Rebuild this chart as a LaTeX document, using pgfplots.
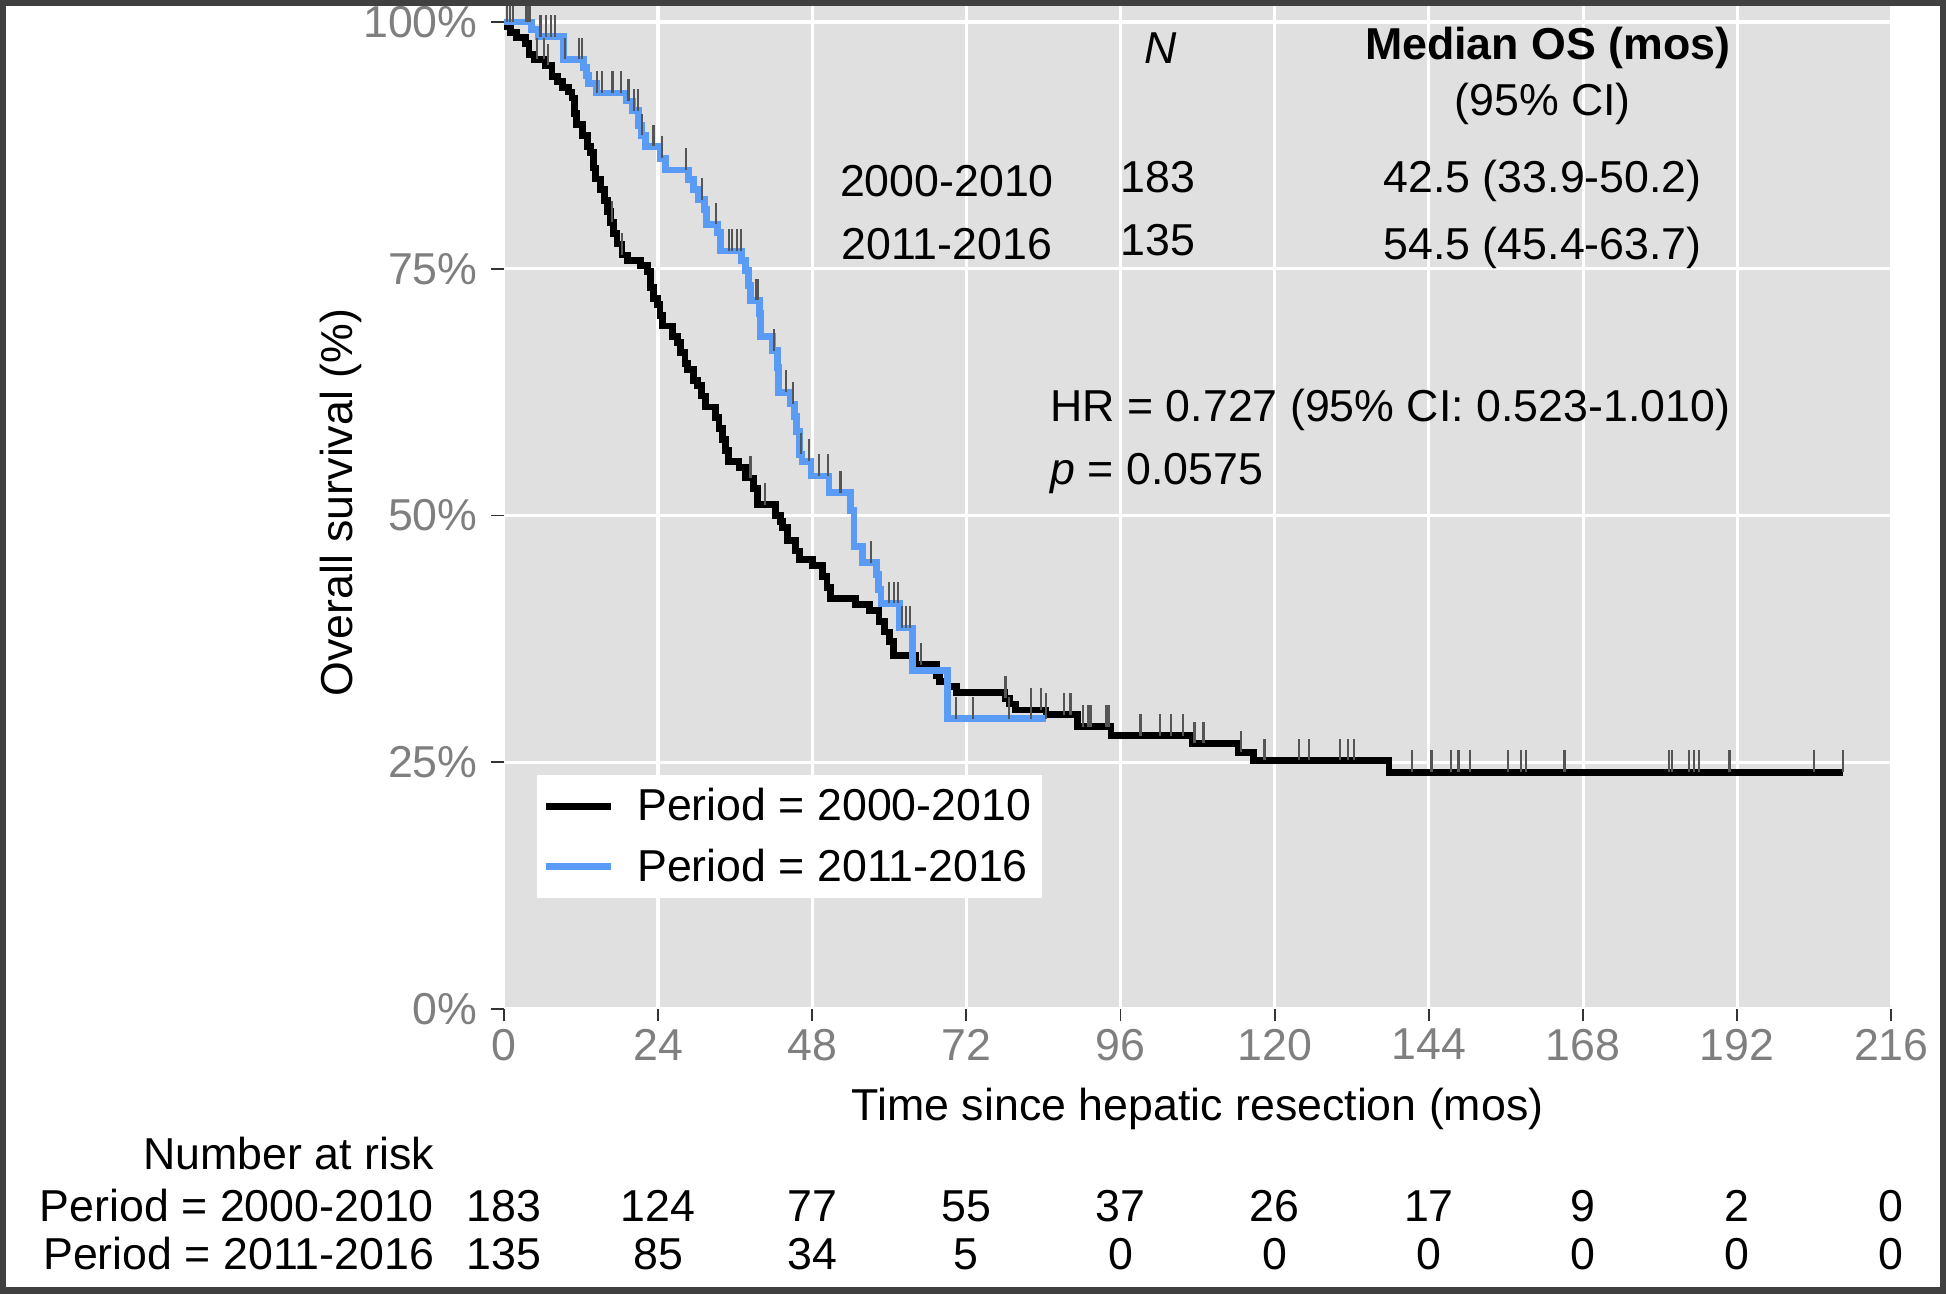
\documentclass[border=0pt]{standalone}
\usepackage{fontspec}
\setmainfont{Liberation Sans}
\usepackage{pgfplots}
\pgfplotsset{compat=1.18}
\definecolor{panelgrey}{HTML}{E0E0E0}
\definecolor{kmblue}{HTML}{5A9BF5}
\definecolor{tickgrey}{HTML}{7F7F7F}
\definecolor{tickdark}{HTML}{333333}
\definecolor{censgrey}{HTML}{555555}
\definecolor{framegrey}{HTML}{404040}
\newcommand{\chartfont}{\fontsize{20.5pt}{24pt}\selectfont}
% censoring tick: short vertical bar sitting on the curve
\pgfdeclareplotmark{cens}{\pgfpathmoveto{\pgfpointorigin}\pgfpathlineto{\pgfpoint{0pt}{3.5mm}}\pgfusepathqstroke}

\begin{document}
\begin{tikzpicture}
\useasboundingbox (-81.2mm,-45.8mm) rectangle (232.4mm,162.6mm);
\begin{axis}[
    at={(0mm,0mm)}, anchor=south west,
    scale only axis, width=223.6mm, height=161.6mm,
    xmin=0, xmax=216, ymin=0, ymax=1.016,
    axis background/.style={fill=panelgrey},
    axis line style={draw=none},
    xtick={0,24,...,216}, ytick={0,0.25,0.5,0.75,1},
    yticklabels={0\%,25\%,50\%,75\%,100\%},
    xtick pos=bottom, ytick pos=left,
    tick align=outside, major tick length=2mm,
    tick style={color=tickdark, line width=0.3mm},
    grid=major, major grid style={white, line width=0.5mm},
    tick label style={font=\chartfont, color=tickgrey},
    yticklabel style={xshift=-1mm},
    /pgf/number format/assume math mode=true,
    legend style={at={(rel axis cs:0.0233,0.234)}, anchor=north west,
        draw=none, fill=white, font=\chartfont, inner xsep=1mm, inner ysep=1.5mm,
        row sep=2.6mm, /tikz/every odd column/.append style={column sep=3mm}},
    legend cell align=left,
    legend image code/.code={\draw[#1] (0mm,0mm) -- (10.4mm,0mm);},
]
\addplot[black, line width=1.1mm, const plot] coordinates {
    (0,1.000) (0.5,0.995) (1.0,0.989) (2.0,0.984) (3.4,0.978) (3.9,0.967)
    (4.7,0.962) (6.5,0.956) (7.5,0.945) (8.3,0.940) (9.1,0.934) (10.0,0.929)
    (10.6,0.923) (11.0,0.907) (11.3,0.896) (12.2,0.885) (13.0,0.874) (13.5,0.868)
    (13.9,0.852) (14.2,0.841) (15.1,0.830) (15.6,0.819) (16.1,0.808) (16.6,0.797)
    (17.1,0.786) (17.6,0.775) (18.4,0.764) (19.2,0.758) (21.3,0.753) (22.3,0.747)
    (22.8,0.731) (23.3,0.720) (23.9,0.714) (24.3,0.703) (24.7,0.692) (26.2,0.681)
    (27.0,0.675) (27.5,0.665) (28.2,0.654) (28.6,0.648) (29.5,0.637) (30.1,0.632)
    (30.8,0.621) (31.4,0.610) (33.0,0.599) (33.5,0.588) (34.0,0.577) (34.5,0.566)
    (35.0,0.555) (36.6,0.549) (37.6,0.538) (38.9,0.527) (39.5,0.511) (42.3,0.500)
    (43.0,0.494) (43.4,0.488) (44.1,0.475) (45.4,0.464) (46.0,0.455) (48.0,0.449)
    (49.6,0.438) (50.3,0.427) (50.9,0.416) (54.8,0.410) (56.9,0.404) (58.4,0.393)
    (59.2,0.382) (60.0,0.372) (60.7,0.358) (64.1,0.349) (67.3,0.338) (67.8,0.332)
    (69.1,0.327) (70.4,0.321) (78.0,0.315) (78.7,0.309) (79.7,0.303) (84.4,0.298)
    (89.3,0.286) (94.5,0.277) (107.2,0.269) (114.4,0.260) (116.7,0.252)
    (137.8,0.240) (208.5,0.240)
};
\addlegendentry{Period = 2000-2010}
\addplot[kmblue, line width=1.1mm, const plot] coordinates {
    (0,1.000) (4.3,0.992) (5.3,0.985) (9.3,0.962) (12.4,0.954) (12.8,0.946)
    (13.2,0.938) (14.4,0.928) (19.0,0.920) (20.0,0.910) (21.0,0.895) (21.4,0.885)
    (22.1,0.874) (24.3,0.862) (25.2,0.850) (28.8,0.840) (29.5,0.830) (30.3,0.820)
    (31.2,0.810) (31.6,0.795) (33.2,0.787) (33.7,0.768) (37.0,0.758) (37.6,0.748)
    (38.1,0.733) (38.4,0.718) (39.8,0.705) (40.0,0.681) (41.8,0.667) (42.6,0.650)
    (42.8,0.625) (44.6,0.613) (45.2,0.600) (45.6,0.585) (46.0,0.562) (46.4,0.555)
    (47.8,0.540) (50.6,0.523) (54.0,0.505) (54.5,0.469) (55.8,0.452) (58.0,0.440)
    (58.3,0.425) (58.7,0.411) (61.6,0.386) (63.6,0.343) (69.0,0.294) (84.4,0.294)
};
\addlegendentry{Period = 2011-2016}
\addplot[only marks, mark=cens, censgrey, line width=0.35mm, forget plot] coordinates {
    (5.2,0.962) (6.2,0.962) (6.9,0.956) (16.8,0.797) (18.4,0.764) (38.4,0.538)
    (40.7,0.511) (64.9,0.349) (78.1,0.315) (82.0,0.303) (83.6,0.303) (84.4,0.298)
    (87.2,0.298) (88.2,0.298) (90.1,0.286) (91.0,0.286) (91.4,0.286) (93.8,0.286)
    (94.2,0.286) (99.1,0.277) (102.1,0.277) (103.9,0.277) (105.7,0.277) (107.5,0.269)
    (108.9,0.269) (114.8,0.260) (118.4,0.252) (123.8,0.252) (125.3,0.252) (130.1,0.252)
    (131.4,0.252) (132.4,0.252) (141.4,0.240) (144.4,0.240) (147.4,0.240) (148.6,0.240)
    (150.4,0.240) (156.3,0.240) (158.4,0.240) (159.1,0.240) (165.1,0.240) (181.4,0.240)
    (181.9,0.240) (184.5,0.240) (185.3,0.240) (186.1,0.240) (190.8,0.240) (203.9,0.240)
    (208.5,0.240)
};
\addplot[only marks, mark=cens, censgrey, line width=0.35mm, forget plot] coordinates {
    (0.5,1) (1.0,1) (1.4,1) (3.4,1) (3.8,1) (4.1,1) (5.7,0.985) (6.5,0.985)
    (7.3,0.985) (7.9,0.985) (9.5,0.962) (11.7,0.962) (12.1,0.962) (14.5,0.928)
    (15.3,0.928) (16.9,0.928) (18.2,0.928) (19.4,0.920) (20.2,0.910) (20.9,0.910)
    (21.5,0.885) (23.3,0.874) (24.6,0.862) (28.3,0.850) (30.9,0.820) (33.0,0.795)
    (35.0,0.768) (35.5,0.768) (36.3,0.768) (36.9,0.768) (39.2,0.718) (39.5,0.718)
    (42.1,0.667) (43.9,0.625) (45.0,0.613) (46.2,0.562) (47.5,0.555) (49.1,0.540)
    (50.4,0.540) (52.4,0.523) (57.1,0.452) (60.0,0.411) (60.7,0.411) (61.3,0.411)
    (62.0,0.386) (62.6,0.386) (63.2,0.386) (70.4,0.294) (73.0,0.294) (78.6,0.294)
    (82.0,0.294) (84.4,0.294)
};
\end{axis}

% annotation table inside the panel
\begin{scope}[every node/.style={font=\chartfont, inner sep=0pt}]
\node[anchor=base] at (105.8mm,152.4mm) {\itshape N};
\node[anchor=base] at (168.2mm,153.0mm) {\bfseries Median OS (mos)};
\node[anchor=base] at (167.4mm,144.0mm) {(95\% CI)};
\node[anchor=base] at (71.4mm,131.0mm) {2000-2010};
\node[anchor=base] at (105.4mm,131.6mm) {183};
\node[anchor=base] at (167.4mm,131.6mm) {42.5 (33.9-50.2)};
\node[anchor=base] at (71.4mm,120.8mm) {2011-2016};
\node[anchor=base] at (105.4mm,121.4mm) {135};
\node[anchor=base] at (167.4mm,120.8mm) {54.5 (45.4-63.7)};
\node[anchor=base west] at (88mm,94.6mm) {HR = 0.727 (95\% CI: 0.523-1.010)};
\node[anchor=base west] at (88mm,84.6mm) {\itshape p\upshape{} = 0.0575};

% axis titles
\node[anchor=base] at (111.8mm,-18mm) {Time since hepatic resection (mos)};
\node[rotate=90] at (-26.2mm,81.6mm) {Overall survival (\%)};

% number at risk table
\node[anchor=base east] at (-11.2mm,-25.8mm) {Number at risk};
\node[anchor=base east] at (-11.2mm,-34.2mm) {Period = 2000-2010};
\node[anchor=base east] at (-11.2mm,-42mm) {Period = 2011-2016};
\foreach \t/\a/\b in {0/183/135, 24/124/85, 48/77/34, 72/55/5, 96/37/0,
    120/26/0, 144/17/0, 168/9/0, 192/2/0, 216/0/0} {
    \node[anchor=base] at ({\t*1.03519mm},-34.2mm) {\a};
    \node[anchor=base] at ({\t*1.03519mm},-42mm) {\b};
}
\end{scope}

\draw[framegrey, line width=2mm] (-81.2mm,-45.8mm) rectangle (232.4mm,162.6mm);
\end{tikzpicture}
\end{document}
